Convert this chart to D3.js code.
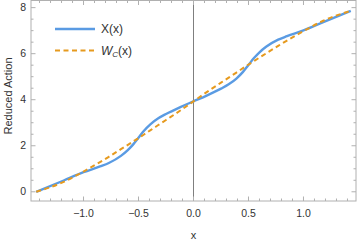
<!DOCTYPE html>
<html><head><meta charset="utf-8">
<script src="https://cdn.jsdelivr.net/npm/d3@7"></script>
<style>body{margin:0;background:#fff}svg{display:block}text{font-family:"Liberation Sans",Arial,sans-serif}</style>
</head><body><div id="c"></div>
<script>
const xs = [-1.43,-1.18,-1.0,-0.85,-0.77,-0.66,-0.6,-0.55,-0.5,-0.45,-0.39,-0.32,-0.25,-0.12,0,0.12,0.25,0.32,0.39,0.45,0.5,0.55,0.6,0.66,0.77,0.85,1.0,1.18,1.43];
const blueX = [0,0.49,0.85,1.10,1.25,1.56,1.80,2.05,2.35,2.65,2.94,3.19,3.38,3.68,3.93,4.18,4.48,4.67,4.92,5.21,5.51,5.81,6.06,6.30,6.61,6.76,7.01,7.37,7.86];
const orangeW = [0,0.43,0.88,1.29,1.52,1.85,2.03,2.18,2.33,2.49,2.68,2.90,3.12,3.53,3.93,4.33,4.74,4.96,5.18,5.37,5.53,5.68,5.83,6.01,6.34,6.57,6.98,7.43,7.86];
const xMajor = [-1.0,-0.5,0.0,0.5,1.0];
const yMajor = [0,2,4,6,8];

const W=357,H=241;
const svg=d3.select("#c").append("svg").attr("width",W).attr("height",H);
const x=d3.scaleLinear().domain([-1.4775,1.4775]).range([31,356]);
const y=d3.scaleLinear().domain([-0.40,8.31]).range([201,0.5]);
const fc="#333";

svg.append("line").attr("x1",x(0)).attr("x2",x(0)).attr("y1",y.range()[1]).attr("y2",y.range()[0])
  .attr("stroke","#7f7f7f").attr("stroke-width",1);

svg.append("rect").attr("x",31).attr("y",0.5).attr("width",325).attr("height",200.5)
  .attr("fill","none").attr("stroke","#b0b0b0").attr("stroke-width",1);

const xMinor=d3.range(-14,15).map(i=>i/10).filter(v=>Math.abs(v*2-Math.round(v*2))>1e-6);
const yMinor=d3.range(0,17).map(i=>i/2).filter(v=>v%2!==0);
const tk=svg.append("g").attr("stroke","#b0b0b0").attr("stroke-width",1);
xMajor.forEach(v=>{tk.append("line").attr("x1",x(v)).attr("x2",x(v)).attr("y1",201).attr("y2",196.5);
  tk.append("line").attr("x1",x(v)).attr("x2",x(v)).attr("y1",0.5).attr("y2",5);});
xMinor.forEach(v=>{tk.append("line").attr("x1",x(v)).attr("x2",x(v)).attr("y1",201).attr("y2",198.5);
  tk.append("line").attr("x1",x(v)).attr("x2",x(v)).attr("y1",0.5).attr("y2",3);});
yMajor.forEach(v=>{tk.append("line").attr("x1",31).attr("x2",35.5).attr("y1",y(v)).attr("y2",y(v));
  tk.append("line").attr("x1",356).attr("x2",351.5).attr("y1",y(v)).attr("y2",y(v));});
yMinor.forEach(v=>{tk.append("line").attr("x1",31).attr("x2",33.5).attr("y1",y(v)).attr("y2",y(v));
  tk.append("line").attr("x1",356).attr("x2",353.5).attr("y1",y(v)).attr("y2",y(v));});

const fmtX=v=>(v<0?"\u2212":"")+Math.abs(v).toFixed(1);
xMajor.forEach(v=>svg.append("text").attr("x",x(v)).attr("y",217).attr("text-anchor","middle")
  .attr("font-size",10.5).attr("fill",fc).text(fmtX(v)));
yMajor.forEach(v=>svg.append("text").attr("x",26).attr("y",y(v)+3.7).attr("text-anchor","end")
  .attr("font-size",10.5).attr("fill",fc).text(v));

svg.append("text").attr("x",x(0)).attr("y",239).attr("text-anchor","middle").attr("font-size",11).attr("fill",fc).text("x");
svg.append("text").attr("transform","translate(12,96) rotate(-90)").attr("text-anchor","middle")
  .attr("font-size",11).attr("fill",fc).text("Reduced Action");

const line=d3.line().curve(d3.curveMonotoneX);
svg.append("path").attr("d",line(xs.map((v,i)=>[x(v),y(blueX[i])]))).attr("fill","none")
  .attr("stroke","#5a9be3").attr("stroke-width",2.4);
svg.append("path").attr("d",line(xs.map((v,i)=>[x(v),y(orangeW[i])]))).attr("fill","none")
  .attr("stroke","#e69a1e").attr("stroke-width",2).attr("stroke-dasharray","5,3.5");

svg.append("line").attr("x1",55).attr("x2",95).attr("y1",29).attr("y2",29).attr("stroke","#5a9be3").attr("stroke-width",2.4);
svg.append("text").attr("x",101).attr("y",33).attr("font-size",12).attr("fill",fc).text("X(x)");
svg.append("line").attr("x1",55).attr("x2",95).attr("y1",50.5).attr("y2",50.5).attr("stroke","#e69a1e").attr("stroke-width",2).attr("stroke-dasharray","5,3.5");
const t2=svg.append("text").attr("x",101).attr("y",55).attr("font-size",12).attr("fill",fc);
t2.append("tspan").attr("font-style","italic").text("W");
t2.append("tspan").attr("font-style","italic").attr("font-size",8).attr("dy",2).text("C");
t2.append("tspan").attr("dy",-2).text("(x)");
</script></body></html>
